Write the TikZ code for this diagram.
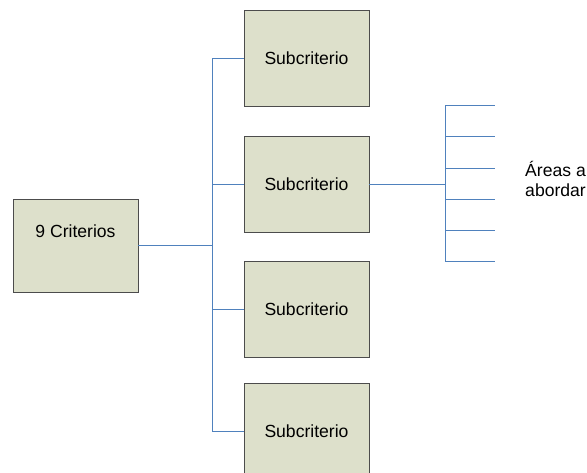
\documentclass[tikz,border=0pt]{standalone}
\usepackage{fontspec}
\setmainfont{Liberation Sans}
\usetikzlibrary{shadows}

\definecolor{boxfill}{HTML}{DDE0CB}
\definecolor{linkblue}{HTML}{4F81BD}

\begin{document}
\begin{tikzpicture}[x=0.03cm, y=-0.03cm,
    box/.style={draw=black!70, fill=boxfill, minimum width=3.75cm, minimum height=2.88cm,
        inner sep=0pt, font=\fontsize{15}{18}\selectfont,
        drop shadow={shadow xshift=0.7pt, shadow yshift=-0.7pt, opacity=0.5}},
    link/.style={linkblue, line width=0.6pt}]
    % page
    \useasboundingbox (0,0) rectangle (587,472);
    \clip (0,0) rectangle (587,472);

    % main criterion
    \node[box, minimum height=2.79cm, text depth=24pt] (crit) at (75.5,245.5) {9 Criterios};

    % subcriteria
    \node[box] (sub1) at (306.5,58) {Subcriterio};
    \node[box] (sub2) at (306.5,184) {Subcriterio};
    \node[box] (sub3) at (306.5,309) {Subcriterio};
    \node[box] (sub4) at (306.5,431) {Subcriterio};

    % trunk to subcriteria
    \coordinate (trunk) at (212,245.5);
    \draw[link] (crit.east) -- (trunk);
    \foreach \i in {1,...,4}
        \draw[link] (trunk) |- (sub\i.west);

    % areas
    \coordinate (fork) at (445,184);
    \draw[link] (sub2.east) -- (fork);
    \foreach \y [count=\i] in {105,136,168,199,230,261} {
        \coordinate (tick\i) at (495,\y);
        \draw[link] (fork) |- (tick\i);
    }
    \node[anchor=west, align=left, inner sep=0pt, font=\fontsize{15}{17}\selectfont] (areas) at (525,179) {Áreas a\\abordar};
\end{tikzpicture}
\end{document}
